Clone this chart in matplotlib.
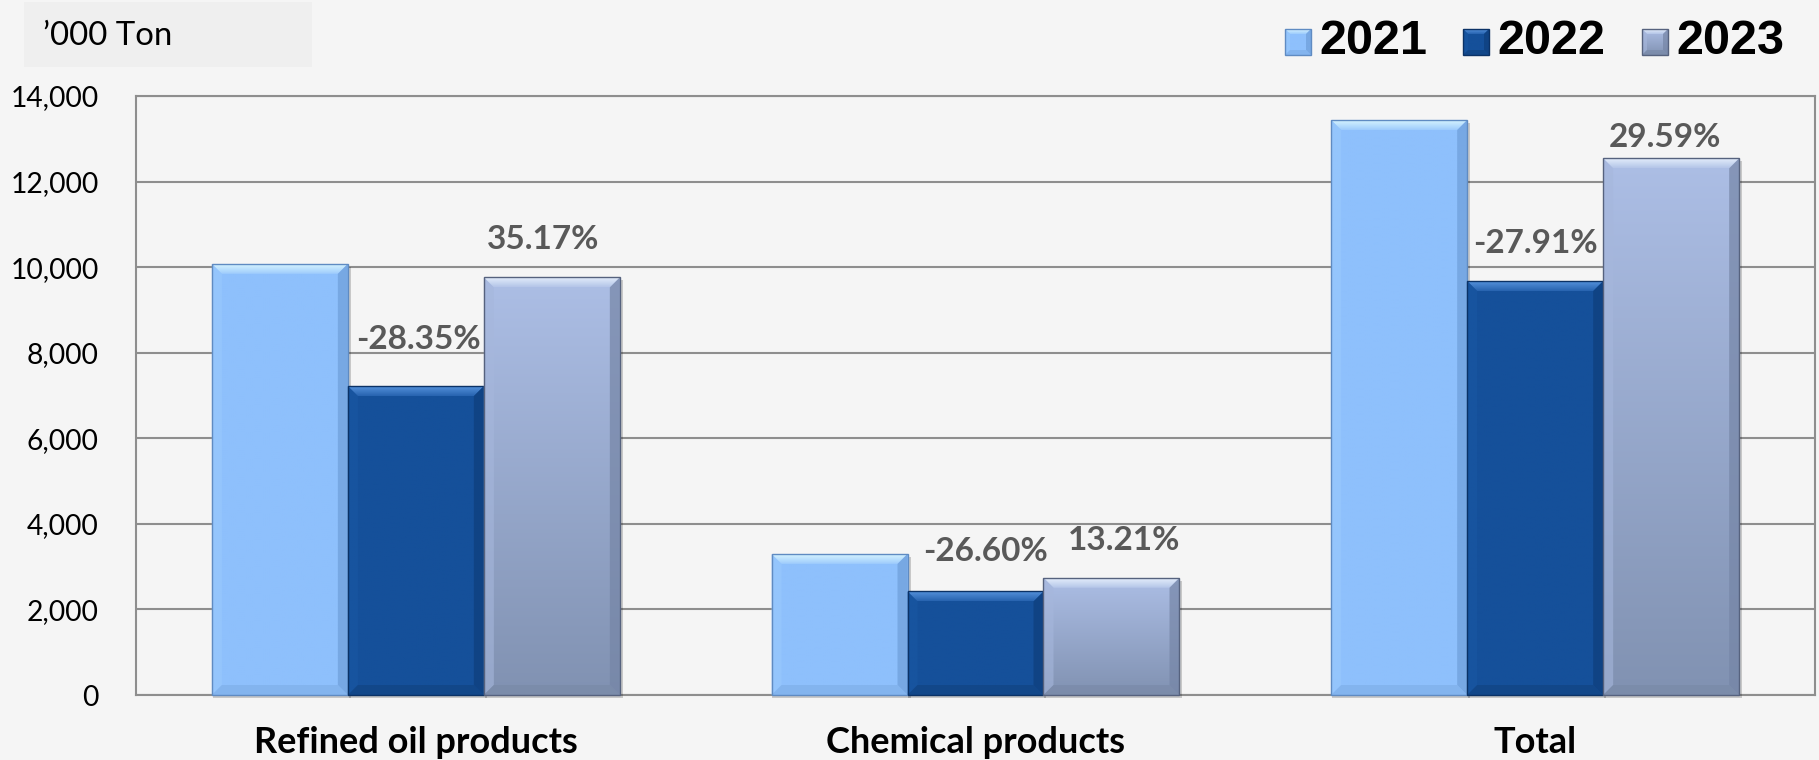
import numpy as np
import matplotlib
matplotlib.use("Agg")
import matplotlib.pyplot as plt
from matplotlib.patches import Polygon, Rectangle
from matplotlib.colors import to_rgb

# ---- data ('000 tons) ----
categories = ["Refined oil products", "Chemical products", "Total"]
years = ["2021", "2022", "2023"]
v2021 = [10077, 3297, 13438]
v2022 = [7220, 2420, 9675]
v2023 = [9760, 2740, 12543]
growth_labels = [["-28.35%", "35.17%"], ["-26.60%", "13.21%"], ["-27.91%", "29.59%"]]
yticks = [0, 2000, 4000, 6000, 8000, 10000, 12000, 14000]

W, H = 1819, 760
BG = "#F5F5F5"
GRID = "#8E8E8E"
LABEL_GREY = "#595959"

styles = {
    "2021": dict(body=("#8EC0FC", "#8EC0FC"), top=("#D6F4FF", "#9DCBFC"),
                 left="#99C9FC", right="#6E9ED9", bottom="#7DADE6", edge="#5F8BC2"),
    "2022": dict(body=("#15509A", "#15509A"), top=("#5592DC", "#2763AF"),
                 left="#1A57A3", right="#0E3E7C", bottom="#10427F", edge="#0B3266"),
    "2023": dict(body=("#ACBEE5", "#8192B2"), top=("#E4EEFB", "#B4C5E8"),
                 left="#A6B7DC", right="#7585A6", bottom="#7888A6", edge="#56627E"),
}


def gradient_fill(ax, poly, c_top, c_bot, zorder):
    """Fill a polygon with a vertical gradient (c_top at the top)."""
    ax.add_patch(poly)
    xs, ys = poly.get_xy()[:, 0], poly.get_xy()[:, 1]
    t, b = np.array(to_rgb(c_top)), np.array(to_rgb(c_bot))
    f = np.linspace(0, 1, 64)[:, None]
    img = (b + (t - b) * f)[:, None, :]
    im = ax.imshow(img, extent=(xs.min(), xs.max(), ys.min(), ys.max()),
                   origin="lower", aspect="auto", zorder=zorder,
                   interpolation="bilinear")
    im.set_clip_path(poly)
    poly.set_visible(False)


def bevel_box(ax, x0, x1, y0, y1, bx, by, st, z=3, clip=True, shadow=None):
    """Draw a bevelled, 3-D looking box in the data coords of ax."""
    if shadow is not None:
        sx, sy = shadow
        ax.add_patch(Rectangle((x0 + sx * 0.3, y0 - sy), x1 - x0 + sx * 0.7, y1 - y0,
                               facecolor="#000000", alpha=0.18, lw=0,
                               zorder=z - 0.5, clip_on=clip))
    body = Polygon([(x0, y0), (x1, y0), (x1, y1), (x0, y1)], closed=True,
                   clip_on=clip)
    gradient_fill(ax, body, st["body"][0], st["body"][1], z)
    top = Polygon([(x0, y1), (x1, y1), (x1 - bx, y1 - by), (x0 + bx, y1 - by)],
                  closed=True, clip_on=clip)
    gradient_fill(ax, top, st["top"][0], st["top"][1], z + 0.1)
    ax.add_patch(Polygon([(x0, y0), (x0, y1), (x0 + bx, y1 - by), (x0 + bx, y0 + by)],
                         closed=True, facecolor=st["left"], lw=0, alpha=0.6,
                         zorder=z + 0.1, clip_on=clip))
    ax.add_patch(Polygon([(x1, y0), (x1, y1), (x1 - bx, y1 - by), (x1 - bx, y0 + by)],
                         closed=True, facecolor=st["right"], lw=0, alpha=0.7,
                         zorder=z + 0.1, clip_on=clip))
    ax.add_patch(Polygon([(x0, y0), (x1, y0), (x1 - bx, y0 + by), (x0 + bx, y0 + by)],
                         closed=True, facecolor=st["bottom"], lw=0, alpha=0.6,
                         zorder=z + 0.1, clip_on=clip))
    ax.add_patch(Rectangle((x0, y0), x1 - x0, y1 - y0, facecolor="none",
                           edgecolor=st["edge"], lw=1.0, zorder=z + 0.2,
                           clip_on=clip))


fig = plt.figure(figsize=(W / 100, H / 100), dpi=100, facecolor=BG)

# plot area in pixel terms
left_px, right_px, top_px, bottom_px = 136, 1815, 96, 695
ax = fig.add_axes([left_px / W, (H - bottom_px) / H,
                   (right_px - left_px) / W, (bottom_px - top_px) / H])
ax.set_facecolor(BG)

xlim = (-0.5, 2.5)
ylim = (0, 14000)
px_x = (right_px - left_px) / (xlim[1] - xlim[0])
px_y = (bottom_px - top_px) / (ylim[1] - ylim[0])
bx, by = 10 / px_x, 10 / px_y

width = 0.243
x = np.arange(len(categories))
series = [v2021, v2022, v2023]
for i, (yr, vals) in enumerate(zip(years, series)):
    for j, v in enumerate(vals):
        cx = x[j] + (i - 1) * width
        bevel_box(ax, cx - width / 2, cx + width / 2, 0, v, bx, by, styles[yr],
                  z=3 + i, clip=False, shadow=(3 / px_x, 3 / px_y))

# growth labels above the 2022 and 2023 bars (pixel offsets for baseline)
label_dx = [[3, -9], [10, 13], [0, -6]]
label_dy = [37, 28, 30, 28, 28, 11]
k = 0
for j in range(len(categories)):
    for s, vals in enumerate([v2022, v2023]):
        cx = x[j] + s * width
        ax.annotate(growth_labels[j][s], xy=(cx, vals[j]),
                    xytext=(label_dx[j][s] * 0.72, label_dy[k] * 0.72),
                    textcoords="offset points", ha="center", va="baseline",
                    fontsize=24, fontweight="bold", color=LABEL_GREY,
                    family="Lato", zorder=10, annotation_clip=False)
        k += 1

ax.set_xlim(*xlim)
ax.set_ylim(*ylim)
ax.set_yticks(yticks)
ax.set_yticklabels([f"{t:,}" for t in yticks], family="Lato", fontsize=20.3)
ax.set_xticks(x)
ax.set_xticklabels(categories, family="Lato", fontsize=26, fontweight="bold")
ax.tick_params(axis="y", length=0, pad=27)
ax.tick_params(axis="x", length=0, pad=22.5)
ax.grid(axis="y", color=GRID, lw=1.5, zorder=0)
ax.set_axisbelow(True)
for sp in ax.spines.values():
    sp.set_color(GRID)
    sp.set_linewidth(1.5)

# overlay in pixel coordinates for the unit box and the legend
ov = fig.add_axes([0, 0, 1, 1], zorder=20)
ov.set_xlim(0, W)
ov.set_ylim(0, H)
ov.axis("off")
ov.patch.set_alpha(0)
ov.add_patch(Rectangle((24, H - 67), 288, 65, facecolor="#EFEFEF", lw=0))
ov.text(43, H - 36, "\u2019000 Ton", family="Lato", fontsize=23.7,
        va="center", ha="left", color="#000000")

legend_x = [1285, 1463, 1642]
for yr, lx in zip(years, legend_x):
    bevel_box(ov, lx, lx + 26, H - 55, H - 29, 5, 5, styles[yr], z=3)
    ov.text(lx + 34, H - 41, yr, family="Liberation Sans", fontweight="bold",
            fontsize=35, va="center", ha="left", color="#000000")
ov.set_xlim(0, W)
ov.set_ylim(0, H)

fig.savefig("out.png", dpi=100, facecolor=BG)
